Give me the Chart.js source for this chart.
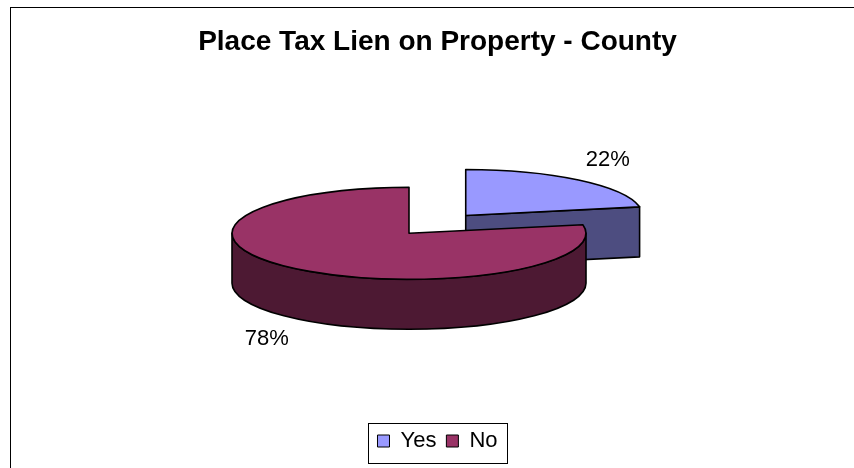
<!DOCTYPE html>
<html lang="en">
<head>
<meta charset="UTF-8">
<title>Place Tax Lien on Property - County</title>
<script src="https://cdn.jsdelivr.net/npm/chart.js@4.4.1/dist/chart.umd.min.js"></script>
<style>
    html, body { margin: 0; padding: 0; background: #fff; }
    #wrap { position: relative; width: 854px; height: 468px; overflow: hidden; }
</style>
</head>
<body>
<div id="wrap"><canvas id="lienChart" width="854" height="468"></canvas></div>

<script>
    const categories = ['Yes', 'No'];
    const shares = [22, 78];
    const topColors = ['#9999FF', '#993366'];
    const sideColors = ['#4D4D80', '#4D1933'];
    const explode = [89, 0];

    const FONT = "'Liberation Sans', Arial, sans-serif";
    Chart.defaults.font.family = FONT;
    Chart.defaults.color = '#000';

    // outer frame, only its left and top edges fall inside the canvas
    const framePlugin = {
        id: 'frame',
        beforeDraw(chart) {
            const ctx = chart.ctx;
            ctx.save();
            ctx.strokeStyle = '#000';
            ctx.lineWidth = 1;
            ctx.strokeRect(10.5, 7.5, chart.width + 20, chart.height + 20);
            ctx.restore();
        }
    };

    // thin box round the legend items
    const legendBox = {
        id: 'legendBox',
        afterDraw(chart) {
            const boxes = chart.legend && chart.legend.legendHitBoxes;
            if (!boxes || !boxes.length) return;
            const left = Math.round(Math.min(...boxes.map(b => b.left)) - 9);
            const right = Math.round(Math.max(...boxes.map(b => b.left + b.width)) + 9);
            const top = Math.round(boxes[0].top - 7);
            const ctx = chart.ctx;
            ctx.save();
            ctx.strokeStyle = '#000';
            ctx.lineWidth = 1;
            ctx.strokeRect(left + 0.5, top + 0.5, right - left, 40);
            ctx.restore();
        }
    };

    function rimPoint(sl, a, tilt, h) {
        return [sl.cx + Math.cos(a) * sl.r, sl.cy + Math.sin(a) * sl.r * tilt + h];
    }

    function drawSlice(ctx, sl, opts) {
        const { cx, cy, r, s, e } = sl;
        const tilt = opts.tilt, depth = opts.depth;
        const ry = r * tilt;
        ctx.save();
        ctx.lineWidth = opts.lineWidth;
        ctx.strokeStyle = '#000';
        ctx.lineJoin = 'round';
        ctx.fillStyle = sideColors[sl.i];

        // cut faces turned toward the viewer
        [[s, Math.cos(s) < -1e-6], [e, Math.cos(e) > 1e-6]].forEach(([a, show]) => {
            if (!show) return;
            const [x, y] = rimPoint(sl, a, tilt, 0);
            ctx.beginPath();
            ctx.moveTo(cx, cy);
            ctx.lineTo(x, y);
            ctx.lineTo(x, y + depth);
            ctx.lineTo(cx, cy + depth);
            ctx.closePath();
            ctx.fill();
            ctx.stroke();
        });

        // outer wall, front half of the rim only
        for (let k = -2; k <= 2; k += 2) {
            const lo = Math.max(s, k * Math.PI);
            const hi = Math.min(e, (k + 1) * Math.PI);
            if (hi - lo < 1e-6) continue;
            ctx.beginPath();
            ctx.ellipse(cx, cy, r, ry, 0, lo, hi);
            ctx.ellipse(cx, cy + depth, r, ry, 0, hi, lo, true);
            ctx.closePath();
            ctx.fill();
            ctx.stroke();
        }

        // top face: the arc element draws itself, squashed into the ellipse
        ctx.save();
        ctx.translate(cx, cy);
        ctx.scale(1, tilt);
        ctx.translate(-sl.arc.x, -sl.arc.y);
        sl.arc.draw(ctx);
        ctx.restore();

        ctx.beginPath();
        ctx.moveTo(cx, cy);
        ctx.ellipse(cx, cy, r, ry, 0, s, e);
        ctx.closePath();
        ctx.stroke();
        ctx.restore();
    }

    function drawLabels(ctx, slices, opts) {
        const total = shares.reduce((a, b) => a + b, 0);
        ctx.save();
        ctx.font = `22px ${FONT}`;
        ctx.fillStyle = '#000';
        ctx.textAlign = 'center';
        ctx.textBaseline = 'middle';
        slices.forEach(sl => {
            const c = Math.cos(sl.mid), sn = Math.sin(sl.mid);
            const x = sl.cx + c * sl.r * opts.labelX;
            const y = sl.cy + sn * sl.r * opts.tilt * opts.labelY + (sn > 0 ? opts.depth : 0);
            ctx.fillText(Math.round(shares[sl.i] / total * 100) + '%', x, y);
        });
        ctx.restore();
    }

    // tilted pie with depth, built on the arc elements of the pie controller
    const pie3d = {
        id: 'pie3d',
        beforeDatasetsDraw(chart, args, opts) {
            const ctx = chart.ctx;
            const meta = chart.getDatasetMeta(0);
            const slices = meta.data.map((arc, i) => {
                const mid = (arc.startAngle + arc.endAngle) / 2;
                return {
                    arc, i, mid,
                    r: arc.outerRadius,
                    s: arc.startAngle,
                    e: arc.endAngle,
                    cx: arc.x + opts.shiftX + Math.cos(mid) * explode[i],
                    cy: arc.y + opts.shiftY + Math.sin(mid) * explode[i] * opts.tilt
                };
            });
            // back slices first
            slices.slice().sort((a, b) => a.cy - b.cy).forEach(sl => drawSlice(ctx, sl, opts));
            drawLabels(ctx, slices, opts);
            return false;
        }
    };

    new Chart(document.getElementById('lienChart'), {
        type: 'pie',
        data: {
            labels: categories,
            datasets: [{
                data: shares,
                backgroundColor: topColors,
                borderWidth: 0
            }]
        },
        options: {
            responsive: false,
            animation: false,
            events: [],
            radius: 177,
            layout: { padding: { left: 21, right: 0, top: 0, bottom: 6 } },
            plugins: {
                title: {
                    display: true,
                    text: 'Place Tax Lien on Property - County',
                    color: '#000',
                    font: { size: 28, weight: 'bold', family: FONT },
                    padding: { top: 25, bottom: 10 }
                },
                legend: {
                    position: 'bottom',
                    labels: {
                        boxWidth: 12,
                        boxHeight: 12,
                        padding: 10,
                        color: '#000',
                        font: { size: 22, family: FONT },
                        generateLabels(chart) {
                            return Chart.overrides.pie.plugins.legend.labels.generateLabels(chart)
                                .map(item => ({ ...item, strokeStyle: '#000', lineWidth: 1 }));
                        }
                    }
                },
                tooltip: { enabled: false },
                pie3d: {
                    tilt: 0.26,
                    depth: 50,
                    shiftX: -28.5,
                    shiftY: -11,
                    lineWidth: 1.6,
                    labelX: 1.26,
                    labelY: 1.56
                }
            }
        },
        plugins: [framePlugin, pie3d, legendBox]
    });
</script>
</body>
</html>
